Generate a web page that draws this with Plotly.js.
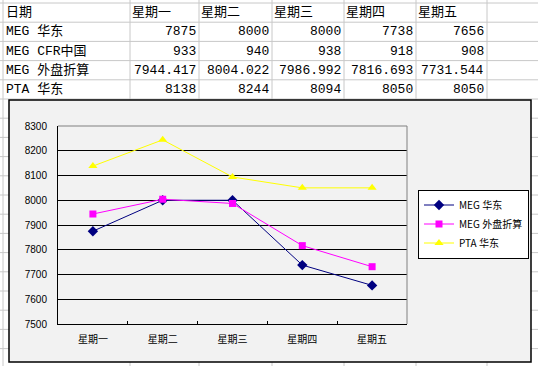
<!DOCTYPE html>
<html>
<head>
<meta charset="utf-8">
<script src="https://cdn.plot.ly/plotly-3.0.1.min.js"></script>
<style>html,body{margin:0;padding:0;background:#fff;}#chart{width:538px;height:366px;}</style>
</head>
<body>
<div id="chart"></div>
<script>
// ---- data ----
const headerLabel = '日期';
const categories = ['星期一', '星期二', '星期三', '星期四', '星期五'];
const rowLabels = ['MEG 华东', 'MEG CFR中国', 'MEG 外盘折算', 'PTA 华东'];
const megEast = [7875, 8000, 8000, 7738, 7656];
const megCfr = [933, 940, 938, 918, 908];
const megOuter = [7944.417, 8004.022, 7986.992, 7816.693, 7731.544];
const ptaEast = [8138, 8244, 8094, 8050, 8050];
const rowDecimals = [0, 0, 3, 0];
const seriesNames = ['MEG 华东', 'MEG 外盘折算', 'PTA 华东'];

// ---- layout helpers (pixels -> paper) ----
const W = 538, H = 366;
const px = x => x / W;
const py = y => 1 - y / H;

const colEdges = [3, 130, 199, 272, 344, 416, 487];
const rowTop = 3, rowH = 19.2;
const gridColor = '#c8c8c8';

const shapes = [];
// spreadsheet gridlines
colEdges.forEach(x => shapes.push({type: 'line', xref: 'paper', yref: 'paper', x0: px(x), x1: px(x), y0: 0, y1: 1, line: {color: gridColor, width: 1}, layer: 'below'}));
for (let y = rowTop; y < H; y += rowH) {
  shapes.push({type: 'line', xref: 'paper', yref: 'paper', x0: 0, x1: 1, y0: py(y), y1: py(y), line: {color: gridColor, width: 1}, layer: 'below'});
}
// chart area frame
shapes.push({type: 'rect', xref: 'paper', yref: 'paper', x0: px(9), x1: px(531), y0: py(100), y1: py(362), fillcolor: '#f2f2f2', line: {color: '#000', width: 1.5}, layer: 'below'});
// plot area top/right border (gray)
const pl = 58, pr = 407, pt = 126, pb = 324;
shapes.push({type: 'line', xref: 'paper', yref: 'paper', x0: px(pl), x1: px(pr), y0: py(pt), y1: py(pt), line: {color: '#808080', width: 1}});
shapes.push({type: 'line', xref: 'paper', yref: 'paper', x0: px(pr), x1: px(pr), y0: py(pt), y1: py(pb), line: {color: '#808080', width: 1}});

// table text
const tableFont = {family: 'Liberation Mono, "Noto Sans CJK SC", monospace', size: 13, color: '#000'};
const annotations = [];
const rowCenter = i => rowTop + rowH * i + rowH / 2;
annotations.push({xref: 'paper', yref: 'paper', x: px(colEdges[0] + 1), y: py(rowCenter(0)), text: headerLabel, showarrow: false, xanchor: 'left', yanchor: 'middle', font: tableFont});
categories.forEach((c, j) => annotations.push({xref: 'paper', yref: 'paper', x: px(colEdges[j + 1]), y: py(rowCenter(0)), text: c, showarrow: false, xanchor: 'left', yanchor: 'middle', font: tableFont}));
const tableRows = [megEast, megCfr, megOuter, ptaEast];
tableRows.forEach((vals, i) => {
  annotations.push({xref: 'paper', yref: 'paper', x: px(colEdges[0] + 1), y: py(rowCenter(i + 1)), text: rowLabels[i], showarrow: false, xanchor: 'left', yanchor: 'middle', font: tableFont});
  vals.forEach((v, j) => annotations.push({xref: 'paper', yref: 'paper', x: px(colEdges[j + 2] - 1), y: py(rowCenter(i + 1)), text: v.toFixed(rowDecimals[i]), showarrow: false, xanchor: 'right', yanchor: 'middle', font: tableFont}));
});

const traces = [
  {x: categories, y: megEast, name: seriesNames[0], type: 'scatter', mode: 'lines+markers', line: {color: '#000080', width: 1}, marker: {symbol: 'diamond', size: 8, color: '#000080'}},
  {x: categories, y: megOuter, name: seriesNames[1], type: 'scatter', mode: 'lines+markers', line: {color: '#ff00ff', width: 1}, marker: {symbol: 'square', size: 7, color: '#ff00ff'}},
  {x: categories, y: ptaEast, name: seriesNames[2], type: 'scatter', mode: 'lines+markers', line: {color: '#ffff00', width: 1}, marker: {symbol: 'triangle-up', size: 8, color: '#ffff00'}}
];

const layout = {
  width: W, height: H, autosize: false,
  margin: {l: 0, r: 0, t: 0, b: 0, pad: 0},
  paper_bgcolor: '#ffffff',
  plot_bgcolor: '#c0c0c0',
  showlegend: true,
  xaxis: {
    type: 'category', domain: [px(pl), px(pr)], range: [-0.5, 4.5],
    showline: true, linecolor: '#000', linewidth: 1, mirror: false,
    showgrid: false, zeroline: false,
    ticks: 'inside', tickson: 'boundaries', ticklen: 3, tickcolor: '#000',
    tickfont: {family: '"Noto Sans CJK SC", sans-serif', size: 10, color: '#000'},
    ticklabelstandoff: 6, fixedrange: true
  },
  yaxis: {
    domain: [py(pb), py(pt)], range: [7500, 8300], dtick: 100, tick0: 7500,
    showline: true, linecolor: '#000', linewidth: 1,
    showgrid: true, gridcolor: '#000', gridwidth: 1, zeroline: false,
    ticks: '', tickfont: {family: 'Liberation Sans, Arial, sans-serif', size: 10, color: '#000'},
    ticklabelstandoff: 8, fixedrange: true
  },
  legend: {
    x: px(418), y: py(224), xanchor: 'left', yanchor: 'middle',
    bgcolor: '#ffffff', bordercolor: '#000', borderwidth: 1,
    font: {family: '"Noto Sans CJK SC", sans-serif', size: 10, color: '#000'},
    tracegroupgap: 0, itemwidth: 30
  },
  shapes: shapes,
  annotations: annotations
};

Plotly.newPlot('chart', traces, layout, {staticPlot: true, displayModeBar: false});
</script>
</body>
</html>
